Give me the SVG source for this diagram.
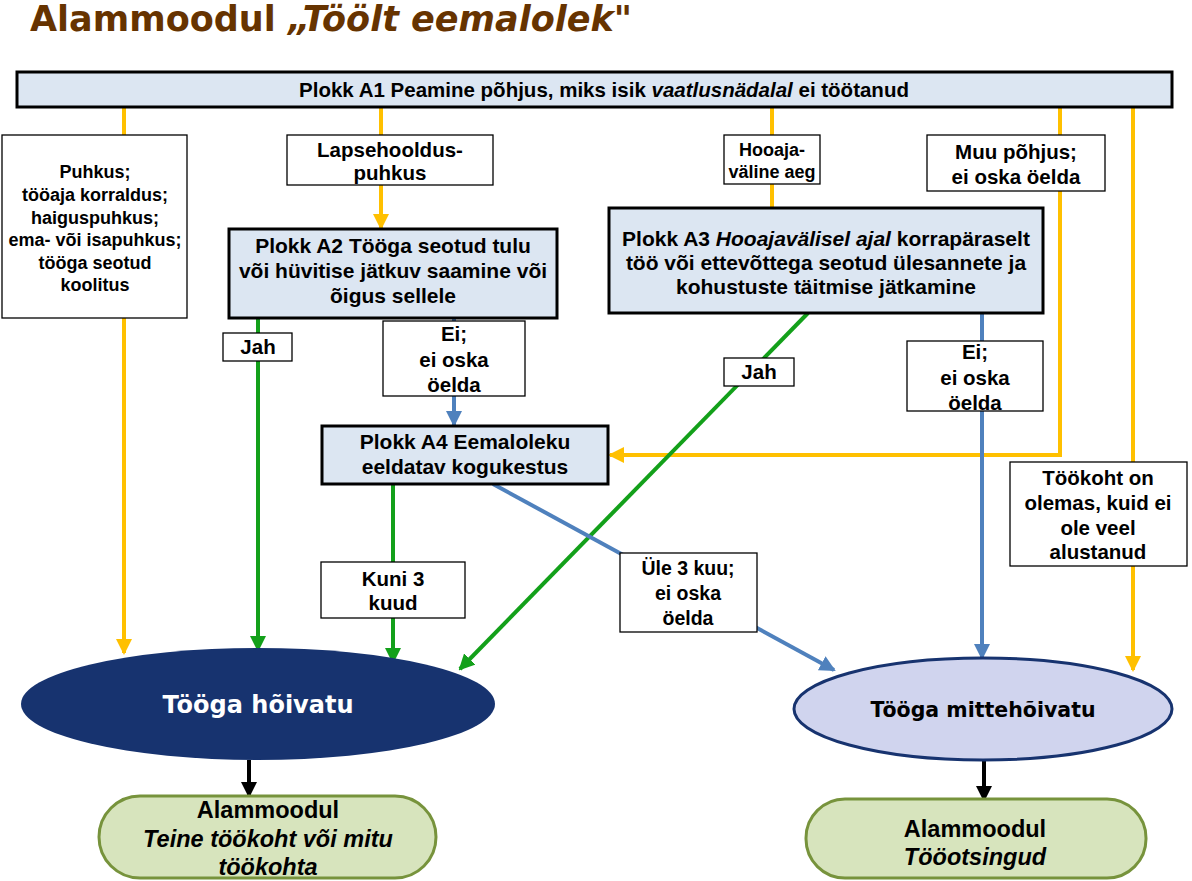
<svg xmlns="http://www.w3.org/2000/svg" width="1192" height="881" viewBox="0 0 1192 881">
<defs>
<style>
.t{font-family:"Liberation Sans",Arial,sans-serif;font-weight:bold;font-size:20.5px;fill:#000;text-anchor:middle}
.t.s18{font-size:18px}
.t.s17{font-size:18px}
.t.s21{font-size:21px}
.t.s24{font-size:23.5px}
.t.s19{font-size:19.5px}
.it{font-style:italic}
.lbl{fill:#fff;stroke:#000;stroke-width:1.3}
.blk{fill:#DCE6F2;stroke:#000;stroke-width:3}
.y{stroke:#FFC000;stroke-width:4;fill:none}
.g{stroke:#13A01A;stroke-width:4;fill:none}
.b{stroke:#4F81BD;stroke-width:4;fill:none}
.k{stroke:#000;stroke-width:4;fill:none}
.el{font-family:"DejaVu Sans",Verdana,sans-serif;font-weight:bold;text-anchor:middle}
.sub{fill:#D7E4BD;stroke:#77933C;stroke-width:3}
</style>
<marker id="ay" markerUnits="userSpaceOnUse" markerWidth="16" markerHeight="16" refX="14" refY="8" orient="auto"><path d="M0,0 L16,8 L0,16 Z" fill="#FFC000"/></marker>
<marker id="ag" markerUnits="userSpaceOnUse" markerWidth="16" markerHeight="16" refX="14" refY="8" orient="auto"><path d="M0,0 L16,8 L0,16 Z" fill="#13A01A"/></marker>
<marker id="ab" markerUnits="userSpaceOnUse" markerWidth="16" markerHeight="16" refX="14" refY="8" orient="auto"><path d="M0,0 L16,8 L0,16 Z" fill="#4F81BD"/></marker>
<marker id="ak" markerUnits="userSpaceOnUse" markerWidth="16" markerHeight="16" refX="14" refY="8" orient="auto"><path d="M0,0 L16,8 L0,16 Z" fill="#000"/></marker>
</defs>
<rect width="1192" height="881" fill="#fff"/>
<text x="30" y="31" font-family="DejaVu Sans,Verdana,sans-serif" font-weight="bold" font-size="35" fill="#663300">Alammoodul <tspan font-style="italic">„Töölt eemalolek</tspan>"</text>

<g id="connectors">
<line class="y" x1="124" y1="107" x2="124" y2="653" marker-end="url(#ay)"/>
<line class="y" x1="381" y1="107" x2="381" y2="228" marker-end="url(#ay)"/>
<line class="y" x1="772" y1="107" x2="772" y2="208"/>
<polyline class="y" points="1060,107 1060,455 610,455" marker-end="url(#ay)"/>
<line class="y" x1="1133" y1="107" x2="1133" y2="670" marker-end="url(#ay)"/>
<line class="g" x1="258" y1="318" x2="258" y2="650" marker-end="url(#ag)"/>
<line class="g" x1="393" y1="484" x2="393" y2="662" marker-end="url(#ag)"/>
<line class="g" x1="808" y1="313" x2="460" y2="669" marker-end="url(#ag)"/>
<line class="b" x1="454" y1="318" x2="454" y2="425" marker-end="url(#ab)"/>
<line class="b" x1="493" y1="484" x2="834" y2="670" marker-end="url(#ab)"/>
<line class="b" x1="982" y1="313" x2="982" y2="658" marker-end="url(#ab)"/>
<line class="k" x1="249" y1="760" x2="249" y2="796" marker-end="url(#ak)"/>
<line class="k" x1="984" y1="760" x2="984" y2="800" marker-end="url(#ak)"/>
</g>

<g id="a1">
<rect class="blk" x="17" y="72" width="1155" height="35"/>
<text class="t" x="604" y="97">Plokk A1 Peamine põhjus, miks isik <tspan class="it">vaatlusnädalal</tspan> ei töötanud</text>
</g>
<g id="puhkus">
<rect class="lbl" x="2" y="135" width="185" height="183"/>
<text class="t s18"><tspan x="95" y="178">Puhkus;</tspan><tspan x="95" y="201">tööaja korraldus;</tspan><tspan x="95" y="224">haiguspuhkus;</tspan><tspan x="95" y="246">ema- või isapuhkus;</tspan><tspan x="95" y="269">tööga seotud</tspan><tspan x="95" y="291">koolitus</tspan></text>
</g>
<g id="lapsehooldus">
<rect class="lbl" x="287" y="135" width="206" height="50"/>
<text class="t"><tspan x="390" y="157">Lapsehooldus-</tspan><tspan x="390" y="180">puhkus</tspan></text>
</g>
<g id="hooaja">
<rect class="lbl" x="724" y="135" width="96" height="49"/>
<text class="t s17"><tspan x="772" y="156">Hooaja-</tspan><tspan x="772" y="178">väline aeg</tspan></text>
</g>
<g id="muu">
<rect class="lbl" x="927" y="135" width="178" height="56"/>
<text class="t"><tspan x="1016" y="159">Muu põhjus;</tspan><tspan x="1016" y="184">ei oska öelda</tspan></text>
</g>
<g id="a2">
<rect class="blk" x="229" y="229" width="328" height="89"/>
<text class="t s21"><tspan x="393" y="253">Plokk A2 Tööga seotud tulu</tspan><tspan x="393" y="278">või hüvitise jätkuv saamine või</tspan><tspan x="393" y="303">õigus sellele</tspan></text>
</g>
<g id="a3">
<rect class="blk" x="609" y="208" width="434" height="105"/>
<text class="t s21"><tspan x="826" y="246">Plokk A3 <tspan class="it">Hooajavälisel ajal</tspan> korrapäraselt</tspan><tspan x="826" y="270">töö või ettevõttega seotud ülesannete ja</tspan><tspan x="826" y="294">kohustuste täitmise jätkamine</tspan></text>
</g>
<g id="jah1">
<rect class="lbl" x="223" y="333" width="69" height="28"/>
<text class="t" x="258" y="354">Jah</text>
</g>
<g id="ei1">
<rect class="lbl" x="383" y="321" width="142" height="75"/>
<text class="t"><tspan x="454" y="341">Ei;</tspan><tspan x="454" y="367">ei oska</tspan><tspan x="454" y="392">öelda</tspan></text>
</g>
<g id="a4">
<rect class="blk" x="322" y="426" width="286" height="58"/>
<text class="t s21"><tspan x="465" y="449">Plokk A4 Eemaloleku</tspan><tspan x="465" y="474">eeldatav kogukestus</tspan></text>
</g>
<g id="jah2">
<rect class="lbl" x="724" y="358" width="70" height="28"/>
<text class="t" x="759" y="379">Jah</text>
</g>
<g id="ei2">
<rect class="lbl" x="907" y="341" width="136" height="70"/>
<text class="t"><tspan x="975" y="359">Ei;</tspan><tspan x="975" y="385">ei oska</tspan><tspan x="975" y="410">öelda</tspan></text>
</g>
<g id="tookoht">
<rect class="lbl" x="1010" y="462" width="177" height="104"/>
<text class="t"><tspan x="1098" y="485">Töökoht on</tspan><tspan x="1098" y="510">olemas, kuid ei</tspan><tspan x="1098" y="535">ole veel</tspan><tspan x="1098" y="559">alustanud</tspan></text>
</g>
<g id="kuni">
<rect class="lbl" x="321" y="562" width="144" height="56"/>
<text class="t"><tspan x="393" y="586">Kuni 3</tspan><tspan x="393" y="610">kuud</tspan></text>
</g>
<g id="yle">
<rect class="lbl" x="620" y="553" width="137" height="79"/>
<text class="t s19"><tspan x="688" y="575">Üle 3 kuu;</tspan><tspan x="688" y="600">ei oska</tspan><tspan x="688" y="625">öelda</tspan></text>
</g>
<g id="hoivatu">
<ellipse cx="258" cy="704" rx="237" ry="56" fill="#17336F"/>
<text class="el" x="258" y="713" font-size="24" fill="#fff">Tööga hõivatu</text>
</g>
<g id="mittehoivatu">
<ellipse cx="983" cy="709" rx="189" ry="51" fill="#D0D4EE" stroke="#17336F" stroke-width="3"/>
<text class="el" x="983" y="717" font-size="20.5" fill="#000">Tööga mittehõivatu</text>
</g>
<g id="sub1">
<rect class="sub" x="99" y="796" width="337" height="82" rx="41"/>
<text class="t s24"><tspan x="268" y="818">Alammoodul</tspan><tspan x="268" y="847" class="it">Teine töökoht või mitu</tspan><tspan x="268" y="875" class="it">töökohta</tspan></text>
</g>
<g id="sub2">
<rect class="sub" x="806" y="799" width="340" height="79" rx="39"/>
<text class="t s24"><tspan x="975" y="837">Alammoodul</tspan><tspan x="975" y="865" class="it">Tööotsingud</tspan></text>
</g>
</svg>
